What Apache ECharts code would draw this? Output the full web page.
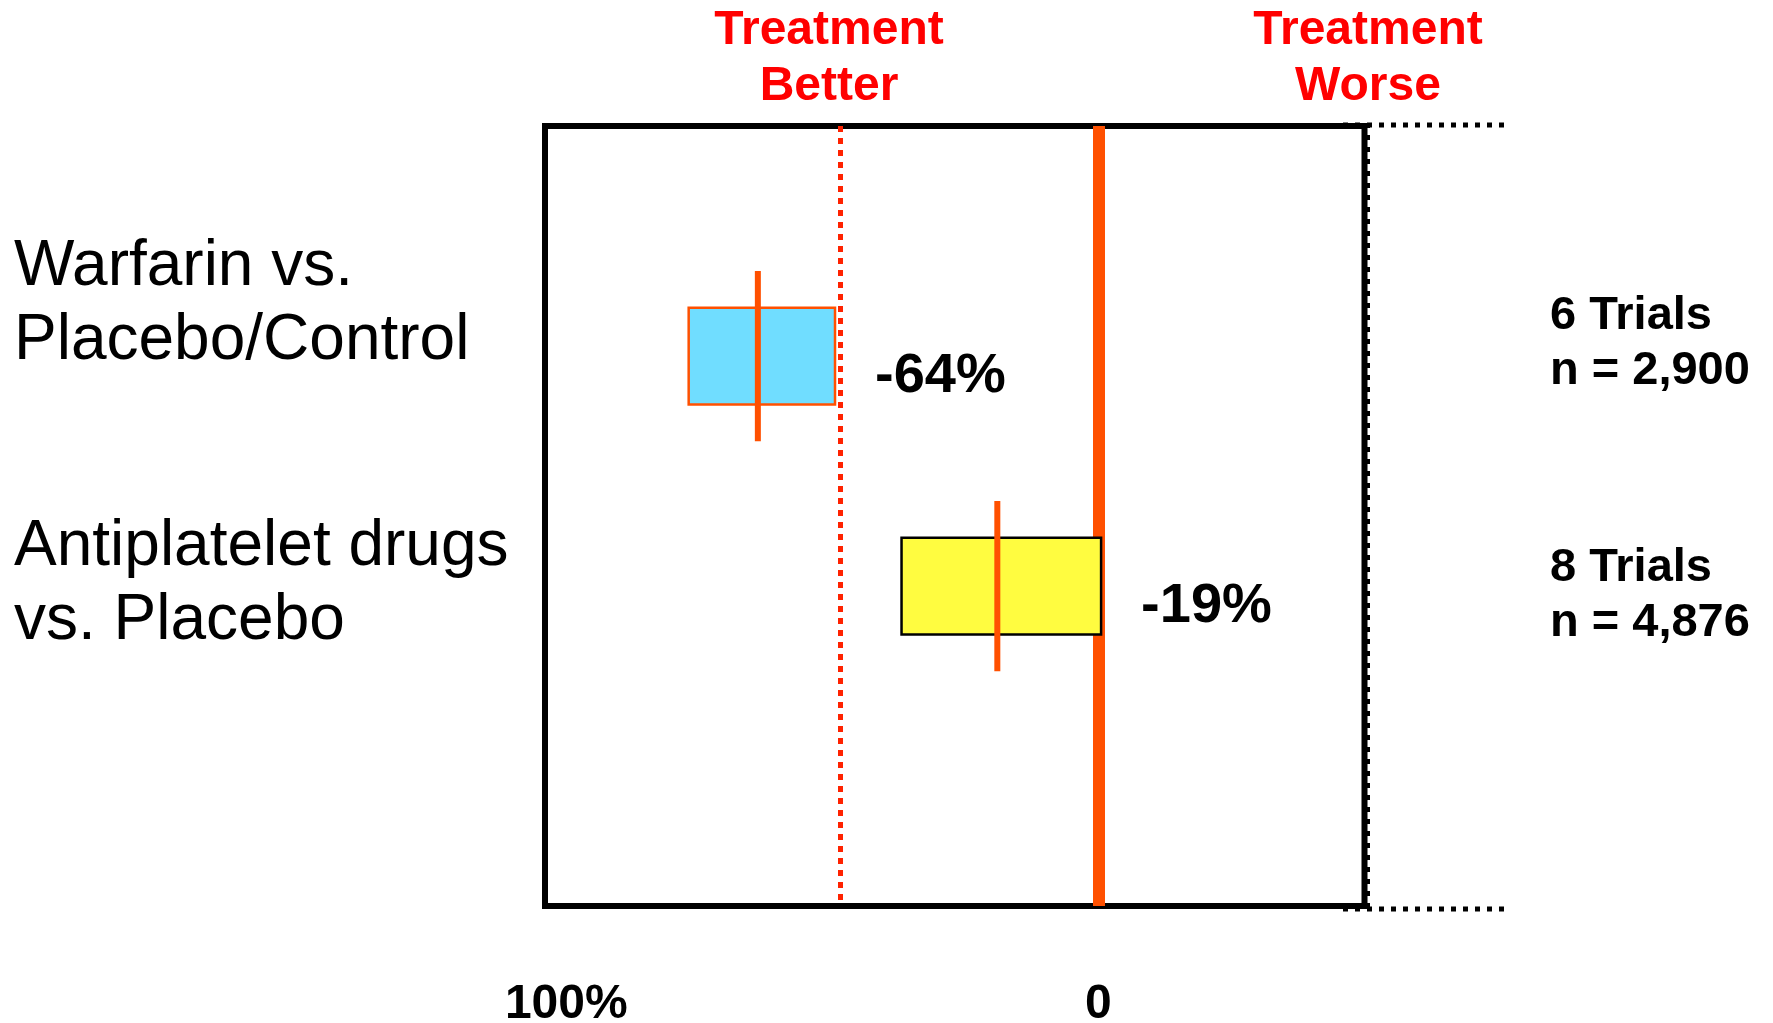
<!DOCTYPE html>
<html>
<head>
<meta charset="utf-8">
<script src="https://cdn.jsdelivr.net/npm/echarts@6/dist/echarts.min.js"></script>
<style>
  html, body { margin: 0; padding: 0; background: #ffffff; }
  #chart { width: 1773px; height: 1023px; }
</style>
</head>
<body>
<div id="chart"></div>
<script>
// ---- data ----
const categories = ['Warfarin vs.\nPlacebo/Control', 'Antiplatelet drugs\nvs. Placebo'];
const rowPositions = [1, 2];
const pointEstimates = [-64, -19];
const ciLower = [-77, -37];
const ciUpper = [-49.5, 0.5];
const valueLabels = ['-64%', '-19%'];
const trialLabels = ['6 Trials\nn = 2,900', '8 Trials\nn = 4,876'];
const headerLabels = ['Treatment\nBetter', 'Treatment\nWorse'];
const xTickValues = [-100, 0];
const xTickLabels = ['100%', '0'];
const nullValue = 0;
const referenceValue = -48.5;

// ---- styles ----
const boxFills = ['#70DDFF', '#FFFC40'];
const boxStrokes = ['#FF5000', '#000000'];
const ORANGE = '#FF5000';
const FONT = '"Liberation Sans", Arial, sans-serif';

const chart = echarts.init(document.getElementById('chart'), null, { renderer: 'canvas' });

const seriesData = categories.map((c, i) => [i, ciLower[i], ciUpper[i], pointEstimates[i], rowPositions[i]]);

function renderItem(params, api) {
  const i = api.value(0);
  const row = api.value(4);
  const lo = api.coord([api.value(1), row]);
  const hi = api.coord([api.value(2), row]);
  const pt = api.coord([api.value(3), row]);
  const boxH = api.size([0, 0.42])[1];
  const whisk = api.size([0, 0.74])[1];
  return {
    type: 'group',
    children: [
      {
        type: 'rect',
        shape: { x: lo[0], y: lo[1] - boxH / 2, width: hi[0] - lo[0], height: boxH },
        style: { fill: boxFills[i], stroke: boxStrokes[i], lineWidth: 2.5 }
      },
      {
        type: 'line',
        shape: { x1: pt[0], y1: pt[1] - whisk / 2, x2: pt[0], y2: pt[1] + whisk / 2 },
        style: { stroke: ORANGE, lineWidth: 6 }
      },
      {
        type: 'text',
        style: {
          text: valueLabels[i],
          x: hi[0] + 40, y: pt[1] + 20,
          align: 'left', verticalAlign: 'middle',
          fill: '#000', font: 'bold 56px ' + FONT
        }
      }
    ]
  };
}

const option = {
  animation: false,
  backgroundColor: '#ffffff',
  grid: {
    left: 545, top: 126, right: 408.5, bottom: 117,
    show: true, borderColor: '#000', borderWidth: 6,
    containLabel: false, outerBoundsMode: 'none'
  },
  xAxis: {
    type: 'value', min: -104, max: 50,
    axisLine: { show: false }, axisTick: { show: false }, splitLine: { show: false },
    axisLabel: {
      customValues: xTickValues,
      formatter: (v) => xTickLabels[xTickValues.indexOf(v)] ?? '',
      fontFamily: FONT, fontSize: 48, fontWeight: 'bold', color: '#000',
      verticalAlign: 'middle', margin: 99
    }
  },
  yAxis: {
    type: 'value', inverse: true, min: 0, max: 3.39, show: false
  },
  series: [
    {
      type: 'line', data: [], z: 1, silent: true,
      markLine: {
        silent: true, symbol: 'none', label: { show: false },
        data: [
          { xAxis: nullValue, lineStyle: { color: ORANGE, width: 12, type: 'solid' } },
          { xAxis: referenceValue, lineStyle: { color: '#FF2200', width: 5, type: [6, 6] } }
        ]
      }
    },
    {
      type: 'custom', z: 5, renderItem: renderItem, data: seriesData,
      encode: { x: [1, 2, 3], y: 4 }, clip: false
    }
  ],
  graphic: [
    { type: 'text', x: 829, y: 59, style: { text: headerLabels[0], align: 'center', verticalAlign: 'middle', lineHeight: 56, fill: '#FF0000', font: 'bold 48px ' + FONT } },
    { type: 'text', x: 1368, y: 59, style: { text: headerLabels[1], align: 'center', verticalAlign: 'middle', lineHeight: 56, fill: '#FF0000', font: 'bold 48px ' + FONT } },
    { type: 'text', x: 14, y: 304, style: { text: categories[0], align: 'left', verticalAlign: 'middle', lineHeight: 74, fill: '#000', font: '64px ' + FONT } },
    { type: 'text', x: 14, y: 584, style: { text: categories[1], align: 'left', verticalAlign: 'middle', lineHeight: 74, fill: '#000', font: '64px ' + FONT } },
    { type: 'text', x: 1550, y: 344, style: { text: trialLabels[0], align: 'left', verticalAlign: 'middle', lineHeight: 55, fill: '#000', font: 'bold 47px ' + FONT } },
    { type: 'text', x: 1550, y: 596, style: { text: trialLabels[1], align: 'left', verticalAlign: 'middle', lineHeight: 55, fill: '#000', font: 'bold 47px ' + FONT } },
    { type: 'line', shape: { x1: 1343, y1: 125, x2: 1506, y2: 125 }, style: { stroke: '#000', lineWidth: 5, lineDash: [5, 7] } },
    { type: 'line', shape: { x1: 1343, y1: 909, x2: 1506, y2: 909 }, style: { stroke: '#000', lineWidth: 5, lineDash: [5, 7] } },
    { type: 'line', shape: { x1: 1368, y1: 123, x2: 1368, y2: 909 }, style: { stroke: '#000', lineWidth: 4, lineDash: [5, 7] } }
  ]
};

chart.setOption(option);
</script>
</body>
</html>
